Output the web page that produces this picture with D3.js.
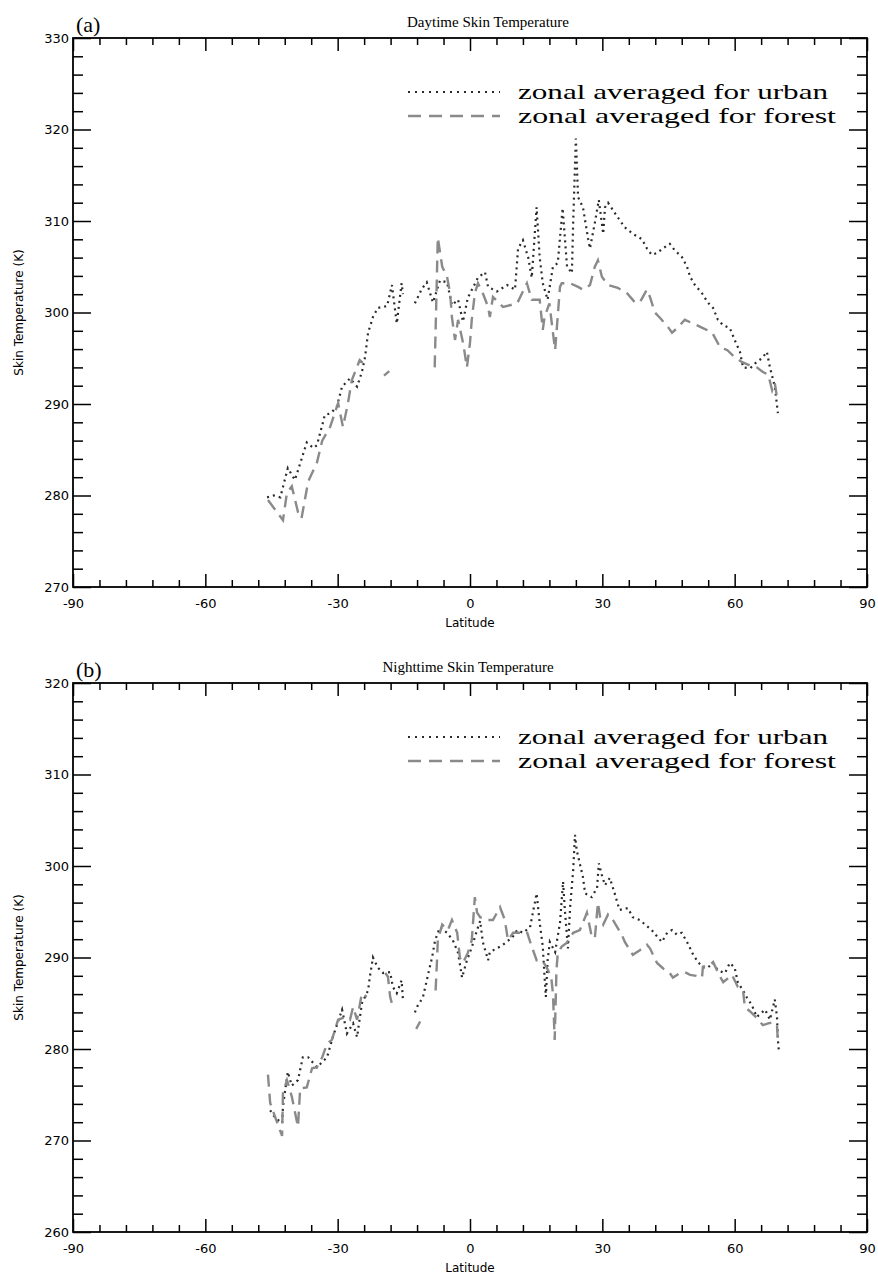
<!DOCTYPE html>
<html>
<head>
<meta charset="utf-8">
<script src="https://cdn.jsdelivr.net/npm/d3@7"></script>
<style>
  body { margin: 0; background: #fff; }
  svg { display: block; }
  .tick text { font-family: "DejaVu Sans", sans-serif; font-size: 13px; fill: #000; }
</style>
</head>
<body>
<svg id="chart" width="878" height="1278"></svg>
<script>
// [latitude, temperature K]; null marks a gap in the zonal series
const dayUrban = [
  [-46,279.8],[-44.5,280],[-43,279.8],[-41.3,283],[-39.7,281.7],[-38.5,283.5],[-37,285.8],[-35.5,285.2],
  [-34.7,285.5],[-32.9,288.8],[-31.5,289],[-30.2,289.7],[-29,291.9],[-27.2,292.8],[-25.6,291.9],[-24.5,293.5],
  [-23.8,295.1],[-23.1,297.8],[-22,299.5],[-20.9,300.5],[-18.8,300.7],[-17.7,303],[-16.6,298.8],[-15.5,303.2],
  [-15.2,302],[-14,null],[-12.5,301],[-10.9,302.6],[-9.8,303.3],[-8.4,301.1],[-6.8,303.5],[-5.2,303.3],
  [-4.1,300.8],[-2.7,301.4],[-1.6,299],[-0.5,301.6],[1.8,303.8],[3.4,304.4],[4.1,302.8],[6.1,302.3],
  [8.4,303],[10.2,302.5],[10.9,307],[12,307.9],[13.2,306],[14,303.8],[15.1,311.5],[15.8,306],
  [16.5,303.2],[17.6,301.4],[18.8,305],[19.9,305.4],[21,311.4],[22,305],[23.1,304.3],[23.4,310],
  [24,319],[24.5,312.6],[25.6,311.5],[26.8,308],[27.2,307],[28.3,309.8],[29.2,312.3],[30.2,308.6],
  [30.6,311.5],[31.3,312],[32.4,311.2],[33.5,310.4],[35.1,309.3],[36.9,308.6],[39,308],[40.1,307],
  [41.2,306.3],[42.4,306.5],[43.7,307],[45.3,307.5],[46.4,306.8],[48,306.1],[49.2,305],[49.9,303.9],
  [51,303],[52.6,302.1],[53.9,301.1],[55.1,300.5],[56.2,299.2],[57.4,298.6],[58.9,298.3],[60,297],
  [61.2,295.7],[61.9,294],[63.5,293.9],[65,294.6],[66.2,295],[67.3,295.7],[68,294],[69.1,291.9],[69.8,289]
];
const dayForest = [
  [-45.8,279.5],[-42.4,277.3],[-41.5,280.3],[-40.4,281],[-39,278.2],[-38.2,277.5],[-36.7,281.5],[-34.7,283.6],
  [-33.5,286],[-31.7,287.5],[-29.9,290.1],[-28.8,287.5],[-27.7,290],[-26.8,292.6],[-25,294.8],[-24.3,294.5],
  [-22,null],[-19.5,293.1],[-18.3,293.6],[-12,null],[-8,294],[-7.7,300],[-7.3,308.2],[-6.3,305],
  [-5.2,303.9],[-4.5,302.1],[-4.1,299.5],[-3.4,297],[-2.7,299.2],[-1.5,296.5],[-0.7,294],[0,296.7],
  [0.4,299.2],[1.1,302.1],[1.8,303.2],[3,302],[4.1,300.6],[4.5,299.5],[5.2,301.7],[7.5,300.6],
  [10.7,301],[12.9,303.2],[14,301.4],[15.8,301.4],[16.5,298.1],[16.9,299.5],[18,301],[18.8,297.8],
  [19.3,295.9],[20.4,302.8],[20.8,303.2],[22.7,303.2],[24.5,302.8],[25.6,302.5],[27.2,303],[28.3,305],
  [29,305.7],[29.9,303.9],[31.3,303],[33.5,302.7],[35.6,302.1],[37.4,301.1],[38.5,301.1],[40.1,302.5],
  [40.8,301.7],[41.9,300],[43.1,299.4],[44.9,298.4],[45.8,297.8],[47.2,298.4],[48.7,299.2],[51.5,298.6],
  [52.8,298.3],[54.9,297.8],[56.7,296.2],[58.3,295.9],[60,295.1],[61.6,294.6],[63.5,294.2],[65,294],
  [66.4,293.5],[67.6,293.2],[68.5,291.5],[69.1,292.3],[69.6,290.7]
];
const nightUrban = [
  [-45.3,273.3],[-44.2,272.5],[-42.6,271.9],[-42.4,273.7],[-41.9,275.5],[-41.3,277.5],[-40.4,276],[-39,276.6],
  [-37.9,279.1],[-36.7,279.1],[-34.7,278],[-32.4,279.1],[-31.1,281.3],[-29,284.3],[-27.9,281.7],[-26.5,282.8],
  [-25.6,281.3],[-24.5,285],[-23.1,286.4],[-22.7,287.9],[-22,290],[-20.9,288.9],[-19.7,288.3],[-18.1,288.4],
  [-17.5,286.8],[-16.6,286.1],[-15.5,287.5],[-15.2,285.4],[-14,null],[-12.5,284],[-11.8,284.8],[-10.7,285.6],
  [-9.8,287.5],[-9.1,289],[-8.6,290],[-7.9,291.9],[-6.8,293.3],[-5.2,292.7],[-3.9,291.9],[-2.7,290.5],
  [-1.8,287.8],[-0.7,289.7],[0.4,291.1],[1.6,293],[2.3,294],[2.9,291.7],[4.1,289.7],[4.5,290.6],
  [6.1,291],[7.5,291.4],[9.6,292.2],[10.7,293],[12,292.7],[13.6,293.3],[14.7,296],[15.1,297],
  [15.8,293.8],[16.5,291.2],[16.9,287.9],[17.2,285.7],[17.6,289.7],[18.1,291.7],[19.3,290.6],[20.4,293.8],
  [21.1,298.3],[21.5,295.2],[22.2,291],[22.7,295.5],[23.4,299.6],[23.8,303.4],[24.2,301.7],[25.6,298.8],
  [26.1,297],[27.6,296.6],[28.8,297.6],[29.2,300.3],[29.9,299],[30.6,297.9],[31.7,298.7],[32.8,297],
  [33.9,295.2],[35.8,295.4],[36.9,294.4],[38.5,294.1],[39.7,293.6],[41.2,293],[42.4,292.3],[43.5,291.7],
  [44.7,292.7],[45.8,293],[46.9,292.5],[48,292.7],[49.2,291.7],[50.6,290.3],[51.7,289.5],[52.8,288.9],
  [53.9,288.9],[55.1,289.4],[56.2,288.6],[57.8,288.3],[58.9,289.4],[60,288.9],[60.7,287.3],[61.9,286.4],
  [62.8,285.6],[63.9,284.8],[65,283.5],[66.9,284.3],[68,283.2],[69.1,285.4],[69.6,283.5],[69.8,281],[70,279.9]
];
const nightForest = [
  [-45.8,277.2],[-45.3,274.1],[-44.5,273],[-42.6,270.5],[-42.4,275.2],[-41.5,276.6],[-40.4,274.8],[-39,271.5],
  [-38.5,275.7],[-37,275.8],[-35.8,277.9],[-34.7,278],[-33.5,279.1],[-32.4,280.6],[-31.3,281],[-29.9,283.2],
  [-28.3,283.5],[-27.2,283.2],[-26.5,284.6],[-25.6,283.2],[-24.5,286.1],[-23.4,285.7],[-21,null],[-19.2,288.3],
  [-18.6,287.9],[-18.1,285.7],[-17.5,284.6],[-14,null],[-12.2,282.2],[-11.3,283],[-10,null],[-7.8,286.4],
  [-7.5,289.4],[-7.3,291.9],[-6.3,293.6],[-5,293],[-4.1,294.1],[-2.9,292.7],[-2.3,290],[-1.6,289.4],
  [-0.5,290.5],[0.4,291.9],[1.1,296.6],[1.6,294.9],[2.3,294.4],[3.9,294.1],[5.2,294.1],[6.8,295.5],
  [7.9,294.1],[8.6,291.9],[9.8,292.7],[11.3,292.7],[12.9,292.8],[14,291.2],[15.1,289.7],[16.3,289.7],
  [17.3,289],[18.4,287.9],[18.8,286.1],[19.2,281],[19.6,288.6],[19.9,290.5],[20.8,291.2],[21.9,291.6],
  [23.4,292.7],[24.9,293],[26.1,294.4],[26.5,294.9],[27.6,292.3],[28.3,292.1],[29,296],[29.5,294.4],
  [30.2,293.6],[31.3,294.7],[32.4,294.1],[34.4,292.5],[35.1,291.7],[36.9,290.3],[38.5,290.8],[40.1,291.4],
  [40.8,291],[42.4,289.4],[43.8,288.8],[45.3,288.3],[46,287.8],[47.3,288.2],[48.7,288.4],[49.9,288.1],
  [51.3,288],[52.6,287.8],[52.8,289],[54.4,289.2],[55.1,289.5],[56.7,287.9],[57.4,287.3],[59.4,288.1],
  [60.7,286.8],[61.9,286.4],[62.3,284.6],[63.5,284.1],[65,283.4],[66.4,282.6],[67.6,282.8],[68.7,282.9],
  [69.6,282.6],[69.8,280.7]
];

const latTicks = [-90, -60, -30, 0, 30, 60, 90];
const dayTicks = [270, 280, 290, 300, 310, 320, 330];
const nightTicks = [260, 270, 280, 290, 300, 310, 320];
const legendLabels = ["zonal averaged for urban", "zonal averaged for forest"];

const svg = d3.select("#chart");
const left = 73, right = 867;

const urbanStyle = { stroke: "#2b2b2b", width: 2.2, dash: "2,4" };
const forestStyle = { stroke: "#8a8a8a", width: 2.4, dash: "12,7" };

function drawPanel(opt) {
  const x = d3.scaleLinear().domain([-90, 90]).range([left, right]);
  const y = d3.scaleLinear().domain(opt.yDomain).range([opt.bottom, opt.top]);
  const g = svg.append("g");
  const yTicks = opt.yTicks;
  const yMinor = d3.range(opt.yDomain[0], opt.yDomain[1] + 0.1, 2).filter(v => !yTicks.includes(v));
  const xMinor = d3.range(-90, 90.1, 6).filter(v => !latTicks.includes(v));
  const plain = d => String(d);

  // axes: labelled left/bottom, mirrored ticks top/right, all pointing inward
  const axes = [
    [d3.axisLeft(y).tickValues(yTicks).tickSize(-18).tickPadding(4).tickFormat(plain), `translate(${left},0)`],
    [d3.axisLeft(y).tickValues(yMinor).tickSize(-10).tickFormat(""), `translate(${left},0)`],
    [d3.axisRight(y).tickValues(yTicks).tickSize(-18).tickFormat(""), `translate(${right},0)`],
    [d3.axisRight(y).tickValues(yMinor).tickSize(-10).tickFormat(""), `translate(${right},0)`],
    [d3.axisBottom(x).tickValues(latTicks).tickSize(-13).tickPadding(12).tickFormat(plain), `translate(0,${opt.bottom})`],
    [d3.axisBottom(x).tickValues(xMinor).tickSize(-7).tickFormat(""), `translate(0,${opt.bottom})`],
    [d3.axisTop(x).tickValues(latTicks).tickSize(-13).tickFormat(""), `translate(0,${opt.top})`],
    [d3.axisTop(x).tickValues(xMinor).tickSize(-7).tickFormat(""), `translate(0,${opt.top})`]
  ];
  axes.forEach(([ax, tr]) => {
    const a = g.append("g").attr("transform", tr).call(ax);
    a.select(".domain").remove();
    a.selectAll(".tick line").attr("stroke", "#000").attr("stroke-width", 1.5);
  });
  g.selectAll(".tick text").attr("fill", "#000");

  g.append("rect")
    .attr("x", left).attr("y", opt.top)
    .attr("width", right - left).attr("height", opt.bottom - opt.top)
    .attr("fill", "none").attr("stroke", "#000").attr("stroke-width", 1.8);

  const line = d3.line()
    .defined(d => d[1] != null)
    .x(d => x(d[0]))
    .y(d => y(d[1]));

  [[opt.urban, urbanStyle], [opt.forest, forestStyle]].forEach(([data, s]) => {
    g.append("path")
      .datum(data)
      .attr("d", line)
      .attr("fill", "none")
      .attr("stroke", s.stroke)
      .attr("stroke-width", s.width)
      .attr("stroke-dasharray", s.dash);
  });

  // legend
  [urbanStyle, forestStyle].forEach((s, i) => {
    const ly = opt.top + 54 + i * 24;
    g.append("line")
      .attr("x1", 408).attr("x2", 500)
      .attr("y1", ly).attr("y2", ly)
      .attr("stroke", s.stroke)
      .attr("stroke-width", s.width)
      .attr("stroke-dasharray", i === 0 ? "2,5" : "13,8");
    g.append("text")
      .attr("x", 518).attr("y", ly + 7)
      .attr("font-family", "Liberation Serif, serif")
      .attr("font-size", 22)
      .attr("textLength", i === 0 ? 310 : 318)
      .attr("lengthAdjust", "spacingAndGlyphs")
      .text(legendLabels[i]);
  });

  // panel letter and title
  g.append("text")
    .attr("x", 76).attr("y", opt.top - 6)
    .attr("font-family", "Liberation Serif, serif")
    .attr("font-size", 22)
    .text(opt.letter);
  g.append("text")
    .attr("x", opt.titleX).attr("y", opt.top - 11)
    .attr("text-anchor", "middle")
    .attr("font-family", "Liberation Serif, serif")
    .attr("font-size", 15)
    .text(opt.title);

  g.append("text")
    .attr("x", (left + right) / 2).attr("y", opt.bottom + 40)
    .attr("text-anchor", "middle")
    .attr("font-family", "DejaVu Sans, sans-serif")
    .attr("font-size", 12)
    .text("Latitude");

  g.append("text")
    .attr("transform", `translate(23,${(opt.top + opt.bottom) / 2}) rotate(-90)`)
    .attr("text-anchor", "middle")
    .attr("font-family", "DejaVu Sans, sans-serif")
    .attr("font-size", 12)
    .text("Skin Temperature (K)");
}

drawPanel({
  top: 38, bottom: 587, yDomain: [270, 330], yTicks: dayTicks,
  urban: dayUrban, forest: dayForest, letter: "(a)",
  title: "Daytime Skin Temperature", titleX: 488
});
drawPanel({
  top: 683, bottom: 1232, yDomain: [260, 320], yTicks: nightTicks,
  urban: nightUrban, forest: nightForest, letter: "(b)",
  title: "Nighttime Skin Temperature", titleX: 468
});
</script>
</body>
</html>
